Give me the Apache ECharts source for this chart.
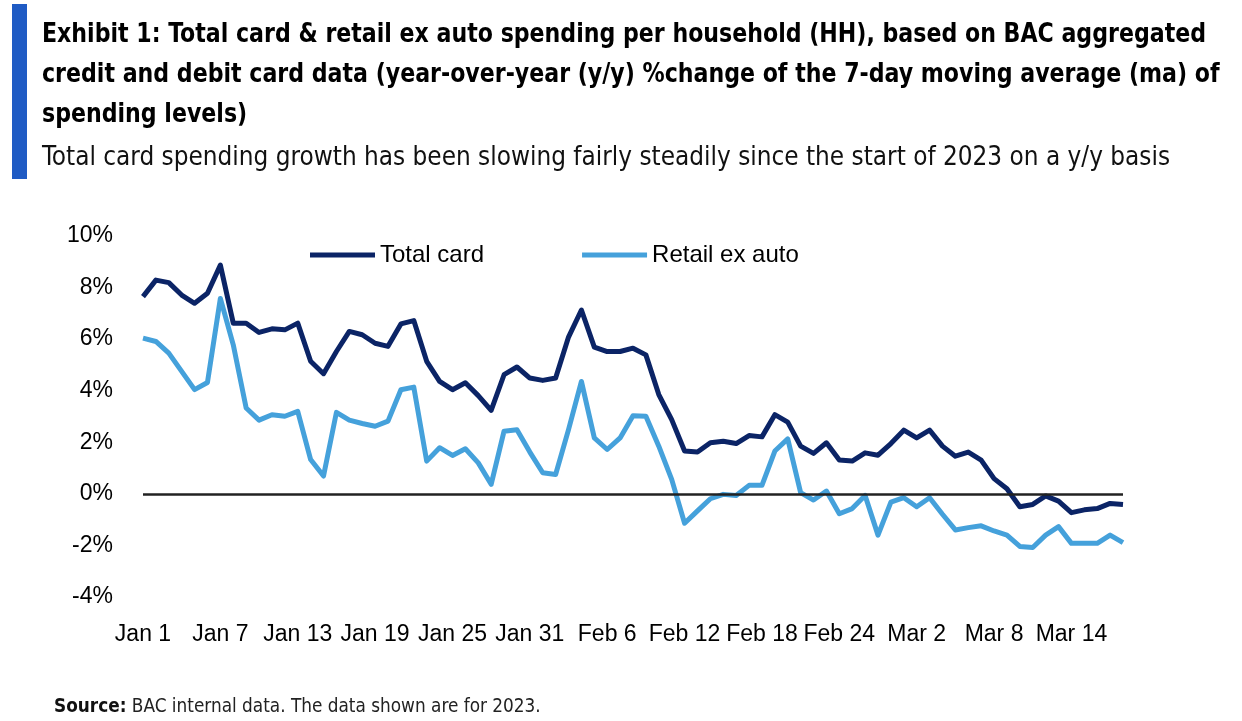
<!DOCTYPE html>
<html>
<head>
<meta charset="utf-8">
<script src="https://cdn.jsdelivr.net/npm/echarts@6/dist/echarts.min.js"></script>
<style>
  html, body { margin: 0; padding: 0; background: #fff; }
  #chart { width: 1242px; height: 721px; }
</style>
</head>
<body>
<div id="chart"></div>
<script>
// ---- Data (2023, daily, Jan 1 – Mar 18) ----
const dates = [
  'Jan 1','Jan 2','Jan 3','Jan 4','Jan 5','Jan 6','Jan 7','Jan 8','Jan 9','Jan 10',
  'Jan 11','Jan 12','Jan 13','Jan 14','Jan 15','Jan 16','Jan 17','Jan 18','Jan 19','Jan 20',
  'Jan 21','Jan 22','Jan 23','Jan 24','Jan 25','Jan 26','Jan 27','Jan 28','Jan 29','Jan 30',
  'Jan 31','Feb 1','Feb 2','Feb 3','Feb 4','Feb 5','Feb 6','Feb 7','Feb 8','Feb 9',
  'Feb 10','Feb 11','Feb 12','Feb 13','Feb 14','Feb 15','Feb 16','Feb 17','Feb 18','Feb 19',
  'Feb 20','Feb 21','Feb 22','Feb 23','Feb 24','Feb 25','Feb 26','Feb 27','Feb 28','Mar 1',
  'Mar 2','Mar 3','Mar 4','Mar 5','Mar 6','Mar 7','Mar 8','Mar 9','Mar 10','Mar 11',
  'Mar 12','Mar 13','Mar 14','Mar 15','Mar 16','Mar 17','Mar 18'
];

const totalCard = [
  7.65, 8.29, 8.19, 7.71, 7.39, 7.78, 8.87, 6.62, 6.62, 6.26,
  6.40, 6.36, 6.62, 5.14, 4.66, 5.52, 6.30, 6.17, 5.84, 5.72,
  6.59, 6.72, 5.14, 4.36, 4.04, 4.31, 3.81, 3.24, 4.62, 4.92,
  4.49, 4.40, 4.49, 6.08, 7.13, 5.69, 5.52, 5.52, 5.65, 5.39,
  3.85, 2.88, 1.66, 1.62, 1.98, 2.04, 1.95, 2.26, 2.21, 3.07,
  2.78, 1.85, 1.57, 1.98, 1.31, 1.27, 1.59, 1.50, 1.95, 2.47,
  2.17, 2.47, 1.85, 1.46, 1.62, 1.31, 0.59, 0.20, -0.50, -0.41,
  -0.08, -0.28, -0.73, -0.62, -0.57, -0.37, -0.41
];

const retailExAuto = [
  6.04, 5.91, 5.46, 4.75, 4.04, 4.32, 7.58, 5.78, 3.33, 2.86,
  3.07, 3.01, 3.20, 1.33, 0.69, 3.16, 2.86, 2.73, 2.62, 2.82,
  4.04, 4.14, 1.27, 1.79, 1.49, 1.75, 1.20, 0.37, 2.43, 2.49,
  1.62, 0.82, 0.75, 2.49, 4.36, 2.17, 1.72, 2.17, 3.03, 3.01,
  1.85, 0.56, -1.14, -0.66, -0.19, -0.02, -0.06, 0.33, 0.33, 1.66,
  2.13, 0.05, -0.24, 0.11, -0.77, -0.57, -0.06, -1.60, -0.32, -0.15,
  -0.50, -0.15, -0.79, -1.40, -1.31, -1.24, -1.44, -1.60, -2.04, -2.08,
  -1.60, -1.27, -1.92, -1.92, -1.92, -1.60, -1.89
];

const seriesNames = ['Total card', 'Retail ex auto'];
const yTicks = { min: -4, max: 10, interval: 2 };

const titleText = 'Exhibit 1: Total card & retail ex auto spending per household (HH), based on BAC aggregated\n' +
  'credit and debit card data (year-over-year (y/y) %change of the 7-day moving average (ma) of\n' +
  'spending levels)';
const subtitleText = 'Total card spending growth has been slowing fairly steadily since the start of 2023 on a y/y basis';
const sourceLabel = 'Source:';
const sourceText = ' BAC internal data. The data shown are for 2023.';

const NAVY = '#0b2466';
const LIGHT = '#45a1db';
const NARROW = "'DejaVu Sans Condensed', 'Liberation Sans Narrow', sans-serif";
const AXISFONT = "'Liberation Sans', Arial, sans-serif";

const chart = echarts.init(document.getElementById('chart'), null, { renderer: 'canvas' });

chart.setOption({
  backgroundColor: '#fff',
  animation: false,
  graphic: [
    { type: 'rect', x: 12, y: 4, shape: { width: 15, height: 175 }, style: { fill: '#1f5bc4' } },
    {
      type: 'text', x: 42, y: 15, scaleX: 0.91,
      style: {
        text: titleText, fontFamily: NARROW, fontWeight: 'bold', fontSize: 27, lineHeight: 40,
        fill: '#000', verticalAlign: 'top', align: 'left'
      }
    },
    {
      type: 'text', x: 42, y: 143, scaleX: 0.958,
      style: {
        text: subtitleText, fontFamily: NARROW, fontWeight: 'normal', fontSize: 27, lineHeight: 30,
        fill: '#111', verticalAlign: 'top', align: 'left'
      }
    },
    {
      type: 'text', x: 54, y: 696, scaleX: 0.94,
      style: {
        text: '{b|' + sourceLabel + '}{n|' + sourceText + '}',
        verticalAlign: 'top', align: 'left',
        rich: {
          b: { fontFamily: NARROW, fontWeight: 'bold', fontSize: 20, lineHeight: 22, fill: '#111' },
          n: { fontFamily: NARROW, fontWeight: 'normal', fontSize: 20, lineHeight: 22, fill: '#222' }
        }
      }
    }
  ],
  legend: {
    data: seriesNames,
    left: 305, top: 238,
    icon: 'rect',
    itemWidth: 65, itemHeight: 5,
    itemGap: 98,
    textStyle: { fontFamily: AXISFONT, fontSize: 24, color: '#000' }
  },
  grid: { left: 143, right: 119, top: 236, bottom: 124, containLabel: false },
  xAxis: {
    type: 'category',
    data: dates,
    boundaryGap: false,
    axisLine: { show: false },
    axisTick: { show: false },
    axisLabel: {
      interval: 5,
      margin: 26,
      fontFamily: AXISFONT, fontSize: 23, color: '#000'
    },
    splitLine: { show: false }
  },
  yAxis: {
    type: 'value',
    min: yTicks.min, max: yTicks.max, interval: yTicks.interval,
    axisLine: { show: false },
    axisTick: { show: false },
    splitLine: { show: false },
    axisLabel: {
      margin: 30,
      formatter: v => v + '%',
      fontFamily: AXISFONT, fontSize: 23, color: '#000'
    }
  },
  series: [
    {
      name: seriesNames[0],
      type: 'line',
      data: totalCard,
      symbol: 'none',
      lineStyle: { color: NAVY, width: 5, join: 'round' },
      itemStyle: { color: NAVY },
      z: 3,
      markLine: {
        silent: true,
        symbol: ['none', 'none'],
        label: { show: false },
        lineStyle: { color: '#222', width: 2.5, type: 'solid' },
        data: [{ yAxis: 0 }]
      }
    },
    {
      name: seriesNames[1],
      type: 'line',
      data: retailExAuto,
      symbol: 'none',
      lineStyle: { color: LIGHT, width: 5, join: 'round' },
      itemStyle: { color: LIGHT },
      z: 2
    }
  ]
});
</script>
</body>
</html>
